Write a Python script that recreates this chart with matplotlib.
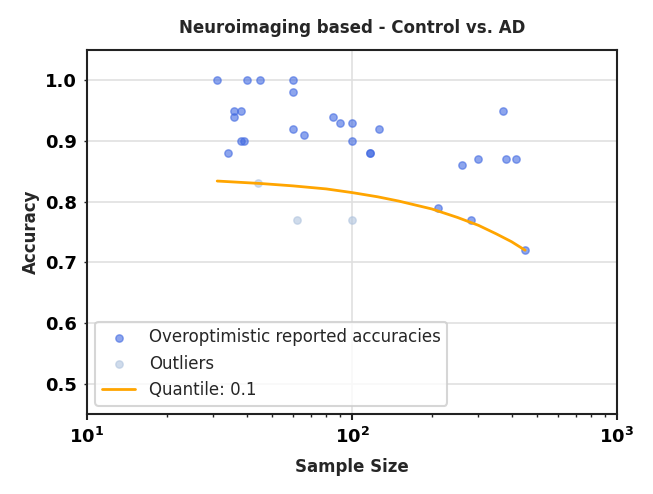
import matplotlib
matplotlib.use("Agg")
import matplotlib.pyplot as plt
import seaborn as sns

sns.set_theme(style="whitegrid")
plt.rcParams['font.family'] = ['DejaVu Sans']

# Data
sample_size = [31, 40, 45, 60, 60, 36, 38, 36, 34, 38, 39, 60, 66, 85, 90, 100, 100,
               117, 117, 126, 211, 260, 281, 299, 371, 381, 415, 450]
accuracy = [1.00, 1.00, 1.00, 1.00, 0.98, 0.95, 0.95, 0.94, 0.88, 0.90, 0.90, 0.92, 0.91,
            0.94, 0.93, 0.93, 0.90, 0.88, 0.88, 0.92, 0.79, 0.86, 0.77, 0.87, 0.95, 0.87,
            0.87, 0.72]
outlier_size = [44, 62, 100]
outlier_acc = [0.83, 0.77, 0.77]
quant_x = [31, 45, 60, 80, 100, 125, 150, 200, 250, 300, 350, 400, 450]
quant_y = [0.834, 0.830, 0.826, 0.821, 0.815, 0.808, 0.801, 0.788, 0.774, 0.761, 0.747, 0.734, 0.720]

fig = plt.figure(figsize=(6.53, 4.94), dpi=100)
ax = fig.add_axes([87/653, 1-414/494, (617-87)/653, (414-50)/494])

ax.scatter(sample_size, accuracy, s=28, color='royalblue', alpha=0.6,
           edgecolor='royalblue', linewidth=1, label='Overoptimistic reported accuracies', zorder=3)
ax.scatter(outlier_size, outlier_acc, s=28, color='lightsteelblue', alpha=0.6,
           edgecolor='lightsteelblue', linewidth=1, label='Outliers', zorder=3)
ax.plot(quant_x, quant_y, color='orange', linewidth=2, label='Quantile: 0.1', zorder=4)

ax.set_xscale('log')
ax.set_xlim(10, 1000)
ax.set_ylim(0.45, 1.05)
ax.set_yticks([0.5, 0.6, 0.7, 0.8, 0.9, 1.0])

for s in ax.spines.values():
    s.set_color('#222222')
    s.set_linewidth(1.5)
ax.grid(True, which='major', color='#e0e0e0', linewidth=1.2)
ax.grid(False, which='minor')
ax.tick_params(axis='x', which='major', bottom=True, length=4.5, width=1.5, color='#222222',
               labelsize=13, pad=4.5)
ax.tick_params(axis='x', which='minor', bottom=True, length=2, width=1, color='#222222')
ax.tick_params(axis='y', which='major', left=True, length=2, width=1, color='#222222',
               labelsize=13, pad=5)
for lbl in ax.get_xticklabels() + ax.get_yticklabels():
    lbl.set_fontweight('bold')
    lbl.set_color('black')

ax.set_title('Neuroimaging based - Control vs. AD', fontsize=12, fontweight='bold',
             color='#262626', pad=12)
ax.set_xlabel('Sample Size', fontsize=12, fontweight='bold', color='#262626', labelpad=8)
ax.set_ylabel('Accuracy', fontsize=12, fontweight='bold', color='#262626')

leg = ax.legend(loc='lower left', fontsize=12, frameon=True, borderpad=0.4)
leg.get_frame().set_edgecolor('#cccccc')
leg.get_frame().set_linewidth(1.5)

fig.savefig('out.png', dpi=100)
